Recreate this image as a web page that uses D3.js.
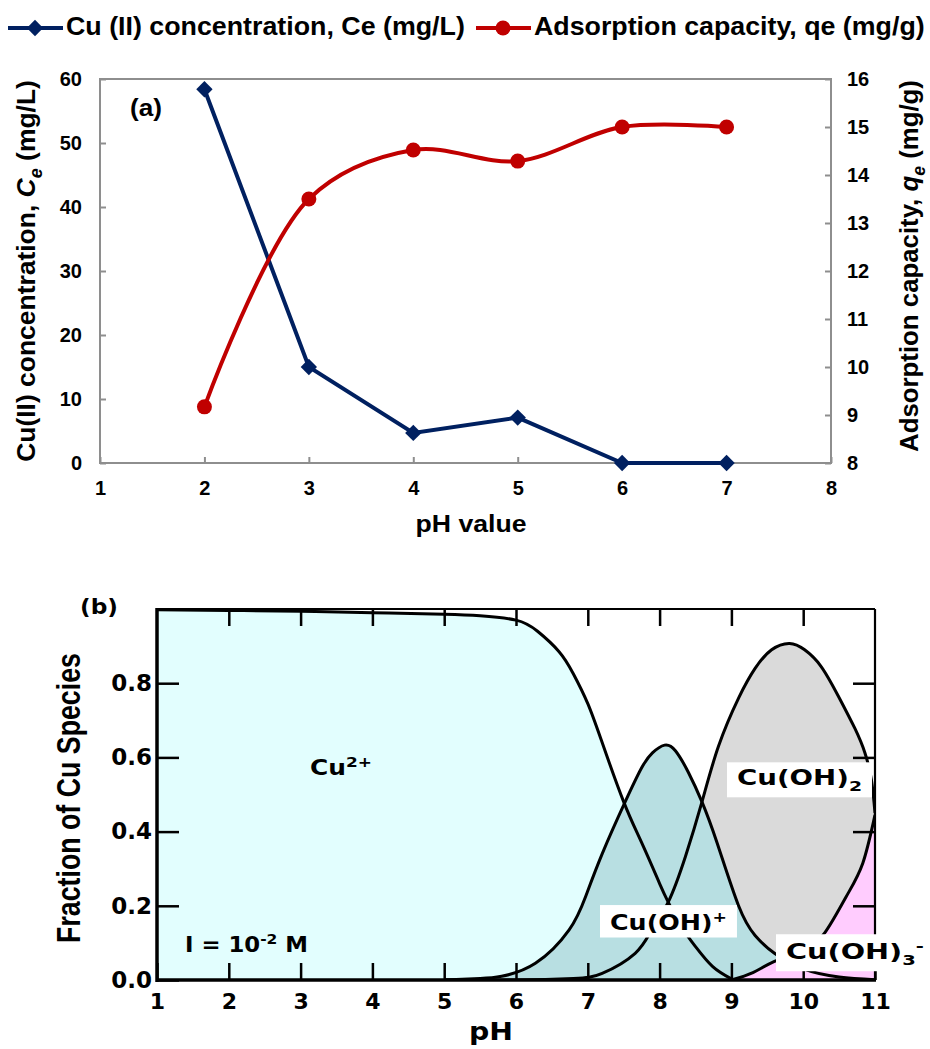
<!DOCTYPE html>
<html>
<head>
<meta charset="utf-8">
<script src="https://cdn.jsdelivr.net/npm/d3@7"></script>
<style>
  body { margin: 0; background: #fff; }
  text { font-family: "Liberation Sans", Arial, sans-serif; font-weight: bold; }
</style>
</head>
<body>
<script>
//----- panel (a) data
var phA = [2, 3, 4, 5, 6, 7];
var ceVals = [58.4, 15.0, 4.7, 7.1, 0, 0];            //Cu(II) concentration, mg/L
var qeVals = [9.17, 13.5, 14.52, 14.29, 15.0, 15.0];  //adsorption capacity, mg/g
var xTicksA = [1, 2, 3, 4, 5, 6, 7, 8];
var ceTicks = [0, 10, 20, 30, 40, 50, 60];
var qeTicks = [8, 9, 10, 11, 12, 13, 14, 15, 16];

//----- panel (b) data (species fractions)
var phCu2 = [1, 2, 3, 4, 5, 5.5, 6, 6.3, 6.6, 6.8, 7.0, 7.2, 7.5, 7.75, 8.0, 8.12, 8.3, 8.5, 8.74, 9.0];
var fracCu2 = [0.998, 0.996, 0.994, 0.99, 0.986, 0.982, 0.97, 0.94, 0.885, 0.825, 0.745, 0.64, 0.48, 0.37, 0.26, 0.21, 0.145, 0.09, 0.036, 0.003];
var phCuOH = [5.0, 5.5, 5.8, 6.27, 6.74, 6.97, 7.2, 7.52, 7.75, 7.9, 8.07, 8.22, 8.4, 8.59, 8.8, 9.1, 9.33, 9.6, 10.0, 10.5, 11.0];
var fracCuOH = [0, 0.004, 0.01, 0.045, 0.135, 0.225, 0.34, 0.48, 0.572, 0.612, 0.633, 0.618, 0.56, 0.48, 0.37, 0.2, 0.12, 0.072, 0.03, 0.008, 0.001];
var phCuOH2 = [5.0, 6.0, 6.8, 7.2, 7.66, 7.89, 8.12, 8.36, 8.59, 8.82, 9.1, 9.33, 9.56, 9.81, 10.02, 10.25, 10.49, 10.72, 10.86, 10.95, 11.0];
var fracCuOH2 = [0, 0, 0.004, 0.018, 0.072, 0.135, 0.21, 0.333, 0.48, 0.63, 0.76, 0.84, 0.89, 0.907, 0.89, 0.845, 0.765, 0.678, 0.612, 0.54, 0.45];
var phCuOH3 = [9.0, 9.3, 9.6, 10.0, 10.3, 10.6, 10.83, 11.0];
var fracCuOH3 = [0, 0.02, 0.05, 0.08, 0.127, 0.225, 0.315, 0.445];
var xTicksB = [1, 2, 3, 4, 5, 6, 7, 8, 9, 10, 11];
var yTicksB = [0, 0.2, 0.4, 0.6, 0.8];

var blue = "#002060", red = "#c00000";
var dejavu = "'DejaVu Sans', Verdana, sans-serif";

var svg = d3.select("body").append("svg")
  .attr("width", 930)
  .attr("height", 1049);

//adds a (possibly rotated) label made of parts, stretched to a target width
function addLabel(parent, x, y, opt, parts){
  var holder = parent.append("g")
    .attr("transform", "translate(" + x + "," + y + ")" + (opt.rotate ? " rotate(" + opt.rotate + ")" : ""));
  var t = holder.append("text")
    .attr("text-anchor", opt.anchor || "start")
    .style("font-size", opt.size + "px");
  if (opt.family) t.style("font-family", opt.family);
  var shift = 0;
  parts.forEach(function(p){
    var s = t.append("tspan").text(p.t);
    var want = p.sub ? opt.size * 0.28 : (p.sup ? -opt.size * 0.4 : 0);
    s.attr("dy", want - shift);
    shift = want;
    if (p.sub || p.sup) s.style("font-size", (opt.size * 0.68) + "px");
    if (p.it) s.style("font-style", "italic");
  });
  var k = 1;
  if (opt.width){
    k = opt.width / t.node().getComputedTextLength();
    t.attr("transform", "scale(" + k + ",1)");
  }
  if (opt.box){
    var bb = t.node().getBBox();
    holder.insert("rect", "text")
      .attr("x", bb.x * k - 10)
      .attr("y", bb.y - 3)
      .attr("width", bb.width * k + 20)
      .attr("height", bb.height + 6)
      .attr("fill", "#fff");
  }
  return t;
}

function styleAxis(g, color, width, size, family){
  g.select(".domain").remove();
  g.selectAll(".tick line").attr("stroke", color).attr("stroke-width", width);
  g.selectAll(".tick text")
    .attr("fill", "#000")
    .style("font-size", size + "px")
    .style("font-family", family || null)
    .style("font-weight", "bold");
}

//================= panel (a) =================
var xA = d3.scaleLinear().domain([1, 8]).range([100, 831]);
var yCe = d3.scaleLinear().domain([0, 60]).range([463, 79]);
var yQe = d3.scaleLinear().domain([8, 16]).range([463, 79]);

var gA = svg.append("g");

gA.append("rect")
  .attr("x", xA(1)).attr("y", yCe(60))
  .attr("width", xA(8) - xA(1)).attr("height", yCe(0) - yCe(60))
  .attr("fill", "none").attr("stroke", "#8e8e8e").attr("stroke-width", 2);

gA.append("g").attr("transform", "translate(" + xA(1) + ",0)")
  .call(d3.axisLeft(yCe).tickValues(ceTicks).tickSize(-6).tickPadding(18))
  .call(styleAxis, "#8e8e8e", 2, 20);
gA.append("g").attr("transform", "translate(" + xA(8) + ",0)")
  .call(d3.axisRight(yQe).tickValues(qeTicks).tickSize(-6).tickPadding(16))
  .call(styleAxis, "#8e8e8e", 2, 20);
gA.append("g").attr("transform", "translate(0," + yCe(0) + ")")
  .call(d3.axisBottom(xA).tickValues(xTicksA).tickSize(-6).tickPadding(18).tickFormat(d3.format("d")))
  .call(styleAxis, "#8e8e8e", 2, 20);

var ceData = d3.zip(phA, ceVals);
var qeData = d3.zip(phA, qeVals);

gA.append("path")
  .datum(ceData)
  .attr("fill", "none").attr("stroke", blue).attr("stroke-width", 4)
  .attr("d", d3.line().x(function(d){ return xA(d[0]); }).y(function(d){ return yCe(d[1]); }));

gA.selectAll(".ce")
  .data(ceData)
  .enter()
  .append("path")
  .attr("class", "ce")
  .attr("transform", function(d){ return "translate(" + xA(d[0]) + "," + yCe(d[1]) + ")"; })
  .attr("d", d3.symbol().type(d3.symbolDiamond2).size(170))
  .attr("fill", blue);

gA.append("path")
  .datum(qeData)
  .attr("fill", "none").attr("stroke", red).attr("stroke-width", 4)
  .attr("d", d3.line().curve(d3.curveCatmullRom.alpha(0.5))
    .x(function(d){ return xA(d[0]); }).y(function(d){ return yQe(d[1]); }));

gA.selectAll(".qe")
  .data(qeData)
  .enter()
  .append("circle")
  .attr("class", "qe")
  .attr("cx", function(d){ return xA(d[0]); })
  .attr("cy", function(d){ return yQe(d[1]); })
  .attr("r", 7.5)
  .attr("fill", red);

//legend
gA.append("line").attr("x1", 8).attr("x2", 63).attr("y1", 28).attr("y2", 28)
  .attr("stroke", blue).attr("stroke-width", 4);
gA.append("path").attr("transform", "translate(35,28)")
  .attr("d", d3.symbol().type(d3.symbolDiamond2).size(170)).attr("fill", blue);
addLabel(gA, 66, 35, {size: 26, width: 399}, [{t: "Cu (II) concentration, Ce (mg/L)"}]);
gA.append("line").attr("x1", 476).attr("x2", 531).attr("y1", 28).attr("y2", 28)
  .attr("stroke", red).attr("stroke-width", 4);
gA.append("circle").attr("cx", 503).attr("cy", 28).attr("r", 7.5).attr("fill", red);
addLabel(gA, 534, 35, {size: 26, width: 391}, [{t: "Adsorption capacity, qe (mg/g)"}]);

//titles
addLabel(gA, 35, 271, {size: 26, rotate: -90, anchor: "middle", width: 382},
  [{t: "Cu(II) concentration, "}, {t: "C", it: true}, {t: "e", it: true, sub: true}, {t: " (mg/L)"}]);
addLabel(gA, 918, 266, {size: 26, rotate: -90, anchor: "middle", width: 372},
  [{t: "Adsorption capacity, "}, {t: "q", it: true}, {t: "e", it: true, sub: true}, {t: " (mg/g)"}]);
addLabel(gA, 471, 532, {size: 23, anchor: "middle", width: 111}, [{t: "pH value"}]);
addLabel(gA, 130, 116, {size: 24, width: 32}, [{t: "(a)"}]);

//================= panel (b) =================
var xB = d3.scaleLinear().domain([1, 11]).range([157, 875]);
var yB = d3.scaleLinear().domain([0, 1]).range([980, 609]);

var gB = svg.append("g");

svg.append("clipPath").attr("id", "clipB")
  .append("rect").attr("x", xB(1)).attr("y", yB(1))
  .attr("width", xB(11) - xB(1)).attr("height", yB(0) - yB(1));

var species = [
  {ph: phCu2, frac: fracCu2, fill: "#e2fefe"},
  {ph: phCuOH2, frac: fracCuOH2, fill: "#dadada"},
  {ph: phCuOH, frac: fracCuOH, fill: "#b8dfe2"},
  {ph: phCuOH3, frac: fracCuOH3, fill: "#ffccfe"}
];

var areaB = d3.area().curve(d3.curveNatural)
  .x(function(d){ return xB(d[0]); })
  .y0(yB(0))
  .y1(function(d){ return yB(d[1]); });
var lineB = d3.line().curve(d3.curveNatural)
  .x(function(d){ return xB(d[0]); })
  .y(function(d){ return yB(d[1]); });

var plotB = gB.append("g").attr("clip-path", "url(#clipB)");

plotB.selectAll(".area")
  .data(species)
  .enter()
  .append("path")
  .attr("class", "area")
  .attr("d", function(s){ return areaB(d3.zip(s.ph, s.frac)); })
  .attr("fill", function(s){ return s.fill; });

plotB.selectAll(".curve")
  .data(species)
  .enter()
  .append("path")
  .attr("class", "curve")
  .attr("d", function(s){ return lineB(d3.zip(s.ph, s.frac)); })
  .attr("fill", "none")
  .attr("stroke", "#000")
  .attr("stroke-width", 3);

//frame
gB.append("line").attr("x1", xB(1)).attr("x2", xB(11)).attr("y1", yB(1)).attr("y2", yB(1))
  .attr("stroke", "#000").attr("stroke-width", 2.2);
gB.append("line").attr("x1", xB(11)).attr("x2", xB(11)).attr("y1", yB(1)).attr("y2", yB(0))
  .attr("stroke", "#000").attr("stroke-width", 2.2);
gB.append("line").attr("x1", xB(1)).attr("x2", xB(1)).attr("y1", yB(1) - 1).attr("y2", yB(0) + 2)
  .attr("stroke", "#000").attr("stroke-width", 3.5);
gB.append("line").attr("x1", xB(1) - 1).attr("x2", xB(11) + 1).attr("y1", yB(0)).attr("y2", yB(0))
  .attr("stroke", "#000").attr("stroke-width", 3.5);

gB.append("g").attr("transform", "translate(" + xB(1) + ",0)")
  .call(d3.axisLeft(yB).tickValues(yTicksB).tickSize(-22).tickPadding(5).tickFormat(d3.format(".1f")))
  .call(styleAxis, "#000", 2.5, 23, dejavu);
gB.append("g").attr("transform", "translate(" + xB(11) + ",0)")
  .call(d3.axisRight(yB).tickValues(yTicksB.slice(1)).tickSize(-22).tickFormat(""))
  .call(styleAxis, "#000", 2.5, 23, dejavu);
gB.append("g").attr("transform", "translate(0," + yB(0) + ")")
  .call(d3.axisBottom(xB).tickValues(xTicksB).tickSize(-17).tickPadding(13))
  .call(styleAxis, "#000", 2.5, 22, dejavu);
gB.append("g").attr("transform", "translate(0," + yB(1) + ")")
  .call(d3.axisTop(xB).tickValues(xTicksB.slice(1, -1)).tickSize(-17).tickFormat(""))
  .call(styleAxis, "#000", 2.5, 22, dejavu);

//species labels
addLabel(gB, 310, 775, {size: 21, family: dejavu, width: 62}, [{t: "Cu"}, {t: "2+", sup: true}]);
addLabel(gB, 185, 952, {size: 21, family: dejavu, width: 123}, [{t: "I = 10"}, {t: "-2", sup: true}, {t: " M"}]);
addLabel(gB, 610, 930, {size: 21, family: dejavu, width: 117, box: true}, [{t: "Cu(OH)"}, {t: "+", sup: true}]);
addLabel(gB, 737, 785, {size: 21, family: dejavu, width: 125, box: true}, [{t: "Cu(OH)"}, {t: "2", sub: true}]);
addLabel(gB, 786, 959, {size: 21, family: dejavu, width: 138, box: true}, [{t: "Cu(OH)"}, {t: "3", sub: true}, {t: "-", sup: true}]);

//titles
addLabel(gB, 80, 798, {size: 33, rotate: -90, anchor: "middle", width: 290}, [{t: "Fraction of Cu Species"}]);
addLabel(gB, 491, 1040, {size: 25, family: dejavu, anchor: "middle", width: 44}, [{t: "pH"}]);
addLabel(gB, 80, 614, {size: 22, family: dejavu, width: 38}, [{t: "(b)"}]);
</script>
</body>
</html>
